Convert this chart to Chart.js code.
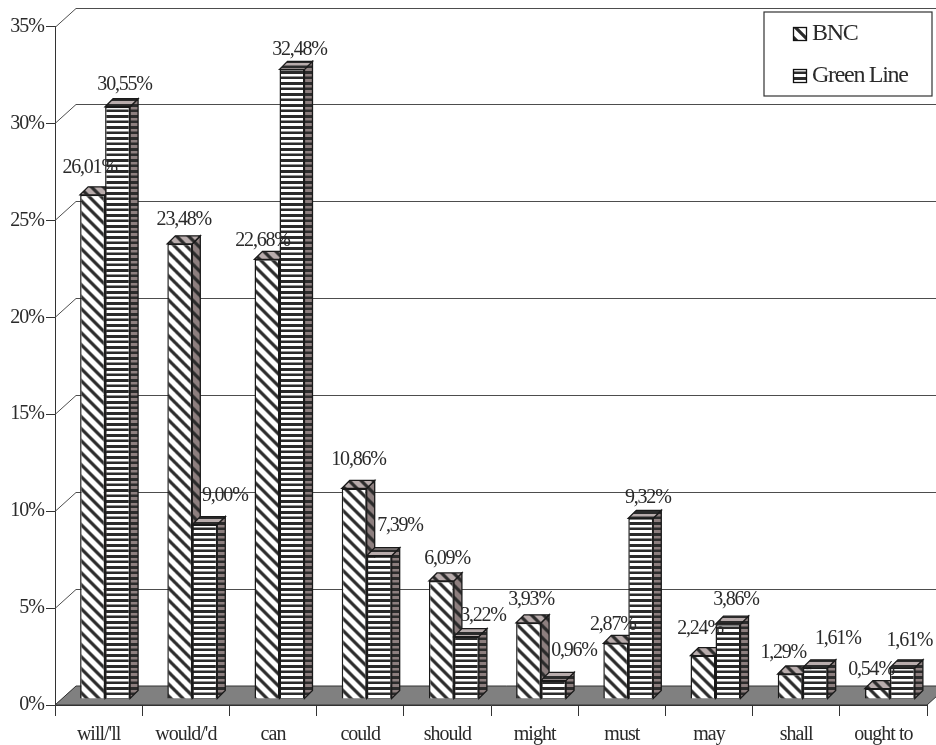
<!DOCTYPE html>
<html>
<head>
<meta charset="utf-8">
<title>Modal verbs</title>
<script src="https://cdn.jsdelivr.net/npm/chart.js@4/dist/chart.umd.min.js"></script>
<style>
  html, body { margin: 0; padding: 0; background: #fff; }
  canvas { display: block; }
</style>
</head>
<body>
<canvas id="myChart" width="936" height="745"></canvas>
<script>
const categories = ['will/\'ll', 'would/\'d', 'can', 'could', 'should', 'might', 'must', 'may', 'shall', 'ought to'];
const bncValues = [26.01, 23.48, 22.68, 10.86, 6.09, 3.93, 2.87, 2.24, 1.29, 0.54];
const greenLineValues = [30.55, 9.00, 32.48, 7.39, 3.22, 0.96, 9.32, 3.86, 1.61, 1.61];
const seriesNames = ['BNC', 'Green Line'];

const FONT = '"Liberation Serif", serif';
const TEXT = '#2a2a2a';
const DARK = '#2b2b2b';

// wall depth, and how far the bars stand back from the front edge
const wallDx = 21, wallDy = -19;
const barDx = 6.5, barDy = -6;
const sideDx = 8, sideDy = -8;

// label centre relative to the top middle of its bar
const bncNudge = [[-3, -27], [4, -24], [-4.5, -19], [4.3, -29], [5.6, -22], [2.4, -23], [-3, -19], [-3, -27], [-7, -21], [-6.4, -18.5]];
const greenNudge = [[7, -22], [20, -28.5], [7.5, -20], [20.8, -30], [16.6, -20.6], [20.4, -29.4], [7, -21], [8, -24], [22.6, -29], [7, -27]];

function diagonalTile(bg) {
  const c = document.createElement('canvas');
  c.width = 12; c.height = 12;
  const g = c.getContext('2d');
  g.fillStyle = bg;
  g.fillRect(0, 0, 12, 12);
  g.strokeStyle = DARK;
  g.lineWidth = 3.2;
  g.beginPath();
  for (let k = -12; k <= 12; k += 12) {
    g.moveTo(k - 2, -2);
    g.lineTo(k + 14, 14);
  }
  g.stroke();
  return g.createPattern(c, 'repeat');
}

function stripeTile(bg) {
  const c = document.createElement('canvas');
  c.width = 11; c.height = 11;
  const g = c.getContext('2d');
  g.fillStyle = bg;
  g.fillRect(0, 0, 11, 11);
  g.fillStyle = DARK;
  g.fillRect(0, 0, 11, 3);
  g.fillRect(0, 5.5, 11, 2.5);
  return g.createPattern(c, 'repeat');
}

const fronts = [diagonalTile('#ffffff'), stripeTile('#ffffff')];
const sides = [diagonalTile('#8d7f7f'), stripeTile('#8d7f7f')];
const tops = [diagonalTile('#b8acac'), stripeTile('#b8acac')];

function polygon(ctx, pts, fill) {
  ctx.beginPath();
  pts.forEach((p, i) => (i ? ctx.lineTo(p[0], p[1]) : ctx.moveTo(p[0], p[1])));
  ctx.closePath();
  ctx.fillStyle = fill;
  ctx.fill();
  ctx.stroke();
}

const box3d = {
  id: 'box3d',
  beforeDraw(chart) {
    chart.ctx.letterSpacing = '-1px';
  },
  beforeDatasetsDraw(chart) {
    const { ctx, chartArea, scales } = chart;
    const { left, right } = chartArea;
    const y0 = scales.y.getPixelForValue(0);
    ctx.save();
    ctx.strokeStyle = '#4d4d4d';
    ctx.lineWidth = 1;
    scales.y.ticks.forEach(t => {
      const y = Math.round(scales.y.getPixelForValue(t.value)) + 0.5;
      ctx.beginPath();
      ctx.moveTo(left, y);
      ctx.lineTo(left + wallDx, y + wallDy);
      ctx.lineTo(chart.width, y + wallDy);
      ctx.stroke();
    });
    ctx.strokeStyle = '#333';
    polygon(ctx, [[left, y0], [left + wallDx, y0 + wallDy], [right + wallDx, y0 + wallDy], [right, y0]], '#808080');
    ctx.restore();
  },
  // the first series has to sit under the second one, so the boxes are painted here
  beforeDatasetDraw() {
    return false;
  },
  afterDatasetsDraw(chart) {
    const { ctx } = chart;
    ctx.save();
    ctx.translate(barDx, barDy);
    ctx.strokeStyle = '#1a1a1a';
    ctx.lineWidth = 1.3;
    seriesNames.forEach((name, d) => {
      const meta = chart.getDatasetMeta(d);
      meta.data.forEach(bar => {
        const l = bar.x - bar.width / 2, r = bar.x + bar.width / 2;
        polygon(ctx, [[r, bar.y], [r + sideDx, bar.y + sideDy], [r + sideDx, bar.base + sideDy], [r, bar.base]], sides[d]);
        polygon(ctx, [[l, bar.y], [l + sideDx, bar.y + sideDy], [r + sideDx, bar.y + sideDy], [r, bar.y]], tops[d]);
      });
      meta.controller.draw();
    });
    ctx.restore();

    ctx.save();
    ctx.font = '20px ' + FONT;
    ctx.letterSpacing = '-1.2px';
    ctx.fillStyle = TEXT;
    ctx.textAlign = 'center';
    ctx.textBaseline = 'middle';
    [bncNudge, greenNudge].forEach((nudge, d) => {
      chart.getDatasetMeta(d).data.forEach((bar, i) => {
        const v = chart.data.datasets[d].data[i];
        const text = v.toFixed(2).replace('.', ',') + '%';
        ctx.fillText(text, bar.x + barDx + nudge[i][0], bar.y + barDy + nudge[i][1]);
      });
    });

    // key
    ctx.fillStyle = '#fff';
    ctx.strokeStyle = '#333';
    ctx.lineWidth = 1.2;
    ctx.fillRect(764, 12, 168, 84);
    ctx.strokeRect(764, 12, 168, 84);
    ctx.textAlign = 'left';
    ctx.lineWidth = 1.3;
    ctx.font = '24px ' + FONT;
    ctx.letterSpacing = '-1.3px';
    seriesNames.forEach((name, d) => {
      const y = 34 + d * 42;
      ctx.fillStyle = fronts[d];
      ctx.fillRect(793.5, y - 6.5, 13, 13);
      ctx.strokeStyle = '#111';
      ctx.strokeRect(793.5, y - 6.5, 13, 13);
      ctx.fillStyle = TEXT;
      ctx.fillText(name, 812, y);
    });
    ctx.restore();
  }
};

new Chart(document.getElementById('myChart'), {
  type: 'bar',
  data: {
    labels: categories,
    datasets: [
      { label: seriesNames[0], data: bncValues, backgroundColor: fronts[0], borderColor: '#1a1a1a', borderWidth: 1.5 },
      { label: seriesNames[1], data: greenLineValues, backgroundColor: fronts[1], borderColor: '#1a1a1a', borderWidth: 1.5 }
    ]
  },
  options: {
    responsive: false,
    animation: false,
    clip: false,
    layout: { padding: { top: 26.5, right: 9, left: 0, bottom: 0 } },
    categoryPercentage: 0.573,
    barPercentage: 1,
    plugins: { legend: { display: false }, tooltip: { enabled: false } },
    scales: {
      x: {
        afterFit(scale) { scale.height = 40; },
        grid: { offset: true, drawOnChartArea: false, tickLength: 11, color: '#333' },
        border: { color: '#333' },
        ticks: { color: TEXT, font: { family: FONT, size: 20 }, padding: 7, maxRotation: 0, autoSkip: false }
      },
      y: {
        min: 0,
        max: 35,
        afterFit(scale) { scale.width = 55; },
        grid: { drawOnChartArea: false, tickLength: 9, color: '#333' },
        border: { color: '#333' },
        ticks: {
          stepSize: 5,
          color: TEXT,
          font: { family: FONT, size: 20 },
          padding: 2,
          callback: v => v + '%'
        }
      }
    }
  },
  plugins: [box3d]
});
</script>
</body>
</html>
